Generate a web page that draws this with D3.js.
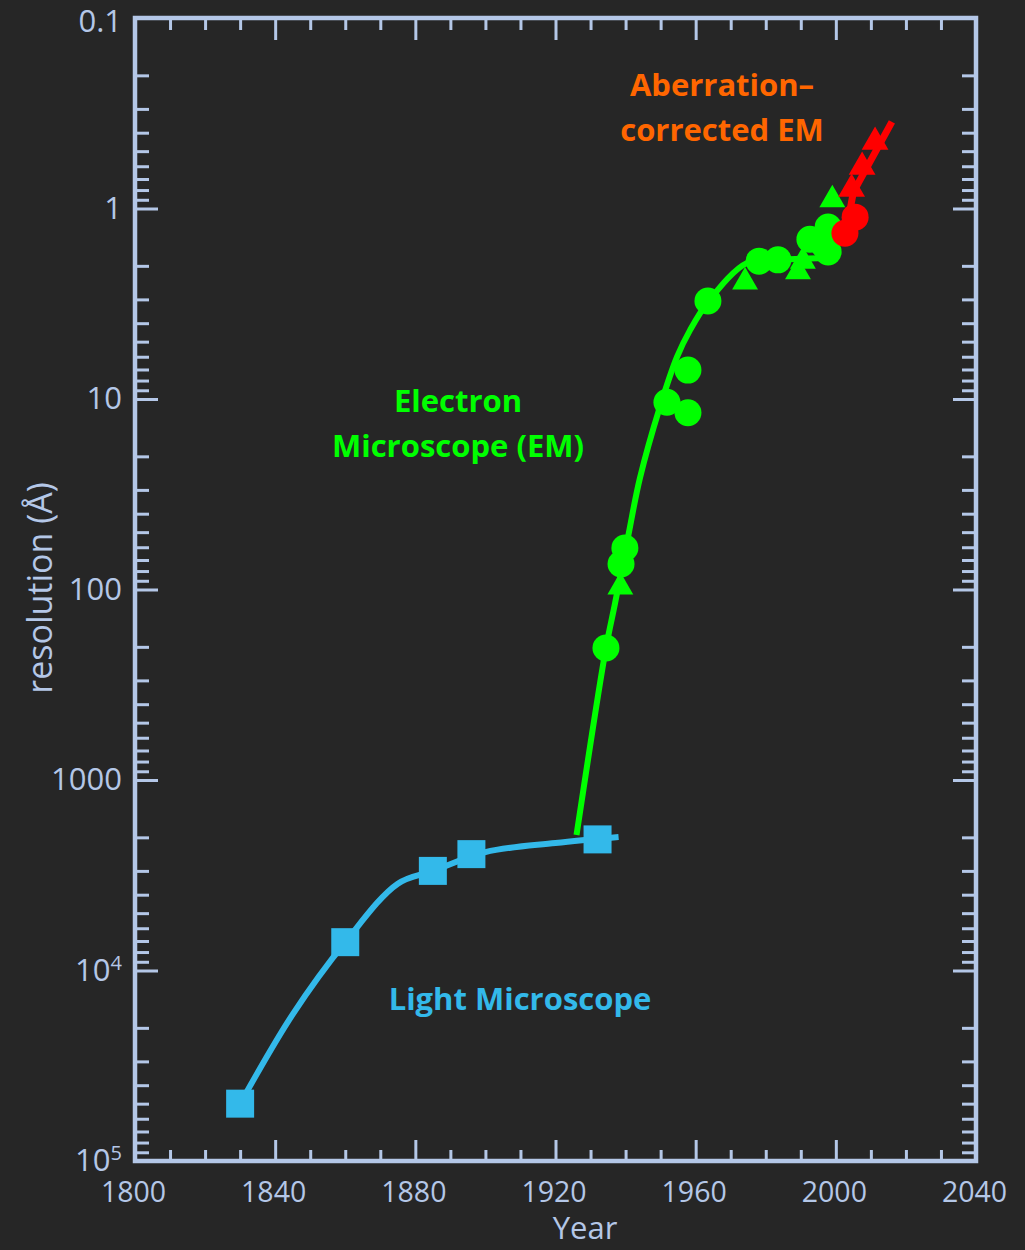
<!DOCTYPE html>
<html>
<head>
<meta charset="utf-8">
<script src="https://cdn.jsdelivr.net/npm/d3@7"></script>
<style>
  body { margin: 0; background: #262626; }
  svg { display: block; }
</style>
</head>
<body>
<div id="chart"></div>
<script>
// axis ticks
const yearTicks = [1800, 1840, 1880, 1920, 1960, 2000, 2040];
const yearMinor = [1810, 1820, 1830, 1850, 1860, 1870, 1890, 1900, 1910, 1930, 1940, 1950,
                   1970, 1980, 1990, 2010, 2020, 2030];
const resTicks = [0.1, 1, 10, 100, 1000, 1e4, 1e5];
const resTickLabels = ["0.1", "1", "10", "100", "1000", "10^4", "10^5"];

// light microscope
const lightYears = [1830, 1860, 1885, 1896, 1932];
const lightRes = [50000, 7100, 3000, 2450, 2050];
const lightLineYears = [1830, 1845, 1860, 1875, 1885, 1900, 1920, 1938];
const lightLineRes = [50000, 17000, 7100, 3500, 3000, 2390, 2140, 1990];

// electron microscope
const emCircleYears = [1934.4, 1938.7, 1939.8, 1951.8, 1957.8, 1957.8, 1963.5, 1978.1, 1983.5, 1992.6, 1996.5, 1997.8, 1997.8];
const emCircleRes = [203, 73.5, 60.5, 10.4, 7.05, 11.8, 3.06, 1.89, 1.86, 1.45, 1.55, 1.25, 1.69];
const emTriYears = [1938.5, 1974.1, 1989.2, 1990.6, 1999];
const emTriRes = [97, 2.43, 2.15, 1.89, 0.90];
const emLineYears = [1926, 1934.4, 1937, 1940.7, 1944.1, 1949.8, 1954.7, 1958.4, 1963.5, 1974.7, 1984.1, 1995.5, 1998];
const emLineRes = [1945, 203, 118, 53, 26, 11.0, 6.0, 4.35, 3.1, 1.93, 1.86, 1.82, 1.8];

// aberration-corrected EM
const acCircleYears = [2002.6, 2005.5];
const acCircleRes = [1.35, 1.11];
const acTriYears = [2004.5, 2007.5, 2011.2];
const acTriRes = [0.79, 0.605, 0.448];
const acLineYears = [2003, 2005, 2016];
const acLineRes = [1.3, 0.82, 0.351];

const W = 1025, H = 1250;
const axisColor = "#b4c7e7";
const blue = "#33b9ea", green = "#00ff00", red = "#ff0000", orange = "#ff6600";
const font = "'Open Sans', 'Noto Sans', sans-serif";

const x = d3.scaleLinear().domain([1800, 2040]).range([135, 976]);
const y = d3.scaleLog().domain([0.1, 1e5]).range([18, 1161]);

const svg = d3.select("#chart").append("svg")
    .attr("width", W)
    .attr("height", H)
    .style("background", "#262626");

// minor y ticks: 2..9 inside each decade
const resMinor = [];
resTicks.slice(0, -1).forEach(function(d) {
    for (let k = 2; k <= 9; k++) resMinor.push(d * k);
});

function styleAxis(g) {
    g.select(".domain").remove();
    g.selectAll(".tick line")
        .attr("stroke", axisColor)
        .attr("stroke-width", 3);
}

// left axis
svg.append("g")
    .attr("transform", "translate(" + x.range()[0] + ",0)")
    .call(d3.axisLeft(y).tickValues(resMinor).tickSizeInner(-14).tickSizeOuter(0).tickFormat(""))
    .call(styleAxis);
const leftMajor = svg.append("g")
    .attr("transform", "translate(" + x.range()[0] + ",0)")
    .call(d3.axisLeft(y).tickValues(resTicks).tickSizeInner(-23).tickSizeOuter(0).tickPadding(13)
        .tickFormat(function(d, i) { return resTickLabels[i]; }))
    .call(styleAxis);
leftMajor.selectAll("text")
    .attr("fill", axisColor)
    .attr("dy", function(d, i) { return i === 0 ? "0.42em" : "0.32em"; })
    .style("font-family", font)
    .style("font-size", "31px")
    .each(function(d, i) {
        const lab = resTickLabels[i];
        if (lab.indexOf("^") < 0) return;
        const parts = lab.split("^");
        const t = d3.select(this).text(null);
        t.append("tspan").text(parts[0]);
        t.append("tspan").attr("dy", "-11px").style("font-size", "20px").text(parts[1]);
    });

// right axis
svg.append("g")
    .attr("transform", "translate(" + x.range()[1] + ",0)")
    .call(d3.axisRight(y).tickValues(resMinor).tickSizeInner(-14).tickSizeOuter(0).tickFormat(""))
    .call(styleAxis);
svg.append("g")
    .attr("transform", "translate(" + x.range()[1] + ",0)")
    .call(d3.axisRight(y).tickValues(resTicks).tickSizeInner(-23).tickSizeOuter(0).tickFormat(""))
    .call(styleAxis);

// bottom axis
svg.append("g")
    .attr("transform", "translate(0," + y.range()[1] + ")")
    .call(d3.axisBottom(x).tickValues(yearMinor).tickSizeInner(-11).tickSizeOuter(0).tickFormat(""))
    .call(styleAxis);
const bottomMajor = svg.append("g")
    .attr("transform", "translate(0," + y.range()[1] + ")")
    .call(d3.axisBottom(x).tickValues(yearTicks).tickSizeInner(-21).tickSizeOuter(0).tickPadding(21)
        .tickFormat(d3.format("d")))
    .call(styleAxis);
bottomMajor.selectAll("text")
    .attr("fill", axisColor)
    .attr("dx", "-2px")
    .style("font-family", font)
    .style("font-size", "28.5px");

// top axis
svg.append("g")
    .attr("transform", "translate(0," + y.range()[0] + ")")
    .call(d3.axisTop(x).tickValues(yearMinor).tickSizeInner(-12).tickSizeOuter(0).tickFormat(""))
    .call(styleAxis);
svg.append("g")
    .attr("transform", "translate(0," + y.range()[0] + ")")
    .call(d3.axisTop(x).tickValues(yearTicks).tickSizeInner(-22).tickSizeOuter(0).tickFormat(""))
    .call(styleAxis);

// frame
svg.append("rect")
    .attr("x", x.range()[0])
    .attr("y", y.range()[0])
    .attr("width", x.range()[1] - x.range()[0])
    .attr("height", y.range()[1] - y.range()[0])
    .attr("fill", "none")
    .attr("stroke", axisColor)
    .attr("stroke-width", 4.5);

// axis titles
svg.append("text")
    .attr("x", 585)
    .attr("y", 1239)
    .attr("text-anchor", "middle")
    .attr("fill", axisColor)
    .style("font-family", font)
    .style("font-size", "31px")
    .text("Year");

svg.append("text")
    .attr("transform", "translate(52,588) rotate(-90)")
    .attr("text-anchor", "middle")
    .attr("fill", axisColor)
    .style("font-family", font)
    .style("font-size", "34px")
    .text("resolution (Å)");

// helpers
function zipPts(xs, ys) { return xs.map(function(d, i) { return [d, ys[i]]; }); }

const curve = d3.line()
    .x(function(d) { return x(d[0]); })
    .y(function(d) { return y(d[1]); })
    .curve(d3.curveCatmullRom.alpha(0.5));

function drawLine(pts, color) {
    svg.append("path")
        .datum(pts)
        .attr("d", curve)
        .attr("fill", "none")
        .attr("stroke", color)
        .attr("stroke-width", 6);
}

function drawSymbols(pts, type, size, color) {
    svg.append("g").selectAll("path")
        .data(pts)
        .enter().append("path")
        .attr("transform", function(d) { return "translate(" + x(d[0]) + "," + y(d[1]) + ")"; })
        .attr("d", d3.symbol().type(type).size(size))
        .attr("fill", color);
}

function drawCircles(pts, color) {
    svg.append("g").selectAll("circle")
        .data(pts)
        .enter().append("circle")
        .attr("cx", function(d) { return x(d[0]); })
        .attr("cy", function(d) { return y(d[1]); })
        .attr("r", 13.5)
        .attr("fill", color);
}

// light microscope
drawLine(zipPts(lightLineYears, lightLineRes), blue);
drawSymbols(zipPts(lightYears, lightRes), d3.symbolSquare, 28 * 28, blue);

// electron microscope
drawLine(zipPts(emLineYears, emLineRes), green);
drawSymbols(zipPts(emTriYears, emTriRes), d3.symbolTriangle, 290, green);
drawCircles(zipPts(emCircleYears, emCircleRes), green);

// aberration-corrected
svg.append("path")
    .datum(zipPts(acLineYears, acLineRes))
    .attr("d", d3.line().x(function(d) { return x(d[0]); }).y(function(d) { return y(d[1]); }))
    .attr("fill", "none")
    .attr("stroke", red)
    .attr("stroke-width", 7);
drawSymbols(zipPts(acTriYears, acTriRes), d3.symbolTriangle, 310, red);
drawCircles(zipPts(acCircleYears, acCircleRes), red);

// series labels
const labels = [
    { lines: ["Aberration\u2013", "corrected EM"], x: 722, y: 96, color: orange },
    { lines: ["Electron", "Microscope (EM)"], x: 458, y: 412, color: green },
    { lines: ["Light Microscope"], x: 520, y: 1010, color: blue }
];
labels.forEach(function(l) {
    const t = svg.append("text")
        .attr("text-anchor", "middle")
        .attr("fill", l.color)
        .style("font-family", font)
        .style("font-weight", 700)
        .style("font-size", "31px");
    l.lines.forEach(function(s, i) {
        t.append("tspan").attr("x", l.x).attr("y", l.y + i * 45).text(s);
    });
});
</script>
</body>
</html>
